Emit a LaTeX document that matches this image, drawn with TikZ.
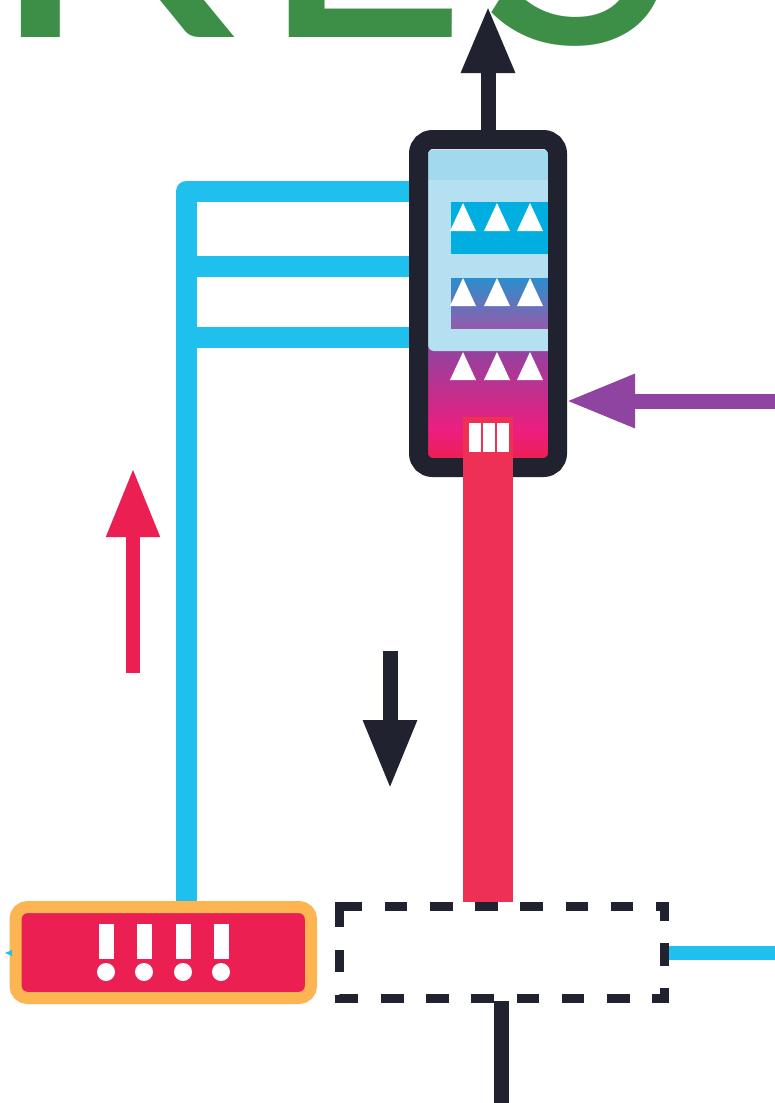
\documentclass[tikz,border=0pt]{standalone}
\usepackage{fontspec}
\newfontfamily\titlefont[FakeStretch=1.12]{Lato}
\usetikzlibrary{arrows.meta}
\definecolor{leaf}{HTML}{3D8F47}
\definecolor{ink}{HTML}{20232F}
\definecolor{sky}{HTML}{1FBFEE}
\definecolor{berry}{HTML}{EC1F52}
\definecolor{riser}{HTML}{EF3055}
\definecolor{plum}{HTML}{8E44A0}
\definecolor{amber}{HTML}{FDB552}
\definecolor{mist}{HTML}{B5E0F2}
\definecolor{mistdark}{HTML}{A2D9EE}
\definecolor{tray}{HTML}{00AEE0}
\definecolor{pink}{HTML}{EC1E80}
\tikzset{
  title/.style={font=\titlefont\fontsize{360}{360}\selectfont,text=leaf,inner sep=0pt,anchor=base},
  feed/.style={line width=21pt,draw=sky},
  bigarrow/.style={line width=15pt,-{Triangle[length=69pt,width=50pt]}},
  whitemark/.style={fill=white,draw=none},
}
\begin{document}
\begin{tikzpicture}[x=1pt,y=-1pt]
  \useasboundingbox (0,0) rectangle (775,1103);

  % Title, cut by the page
  \begin{scope}
    \clip (0,0) rectangle (775,1103);
    \node[title] (titleR) at (111,37) {R};
    \node[title,xscale=.915] (titleE) at (362,37) {E};
    \node[title,xscale=.92] (titleS) at (580,43) {S};
  \end{scope}

  % Column interior
  \shade[top color=plum,bottom color=pink] (428,345) rectangle (548,430);
  \shade[top color=pink,bottom color=berry] (428,430) rectangle (548,460);
  \fill[mist,rounded corners=6pt] (428,150) -- (428,351) -- (556,351) -- (556,150) -- cycle;
  \fill[mistdark] (428,150) rectangle (549,180);
  \fill[tray] (451,202) rectangle (549,254);
  \shade[top color=tray!70!plum,bottom color=plum!85!mist] (451,278) rectangle (549,328);
  \foreach \row in {231,306,380}
    \foreach \cx in {463,497,530}
      \fill[whitemark] (\cx-13,\row) -- (\cx,\row-28) -- (\cx+13,\row) -- cycle;

  % Column
  \node[draw=ink,line width=19pt,rounded corners=14pt,inner sep=0pt,outer sep=9.5pt,
        minimum width=139pt,minimum height=328pt] (column) at (488,303.5) {};

  % Boxes
  \node[draw=amber,fill=berry,line width=12pt,rounded corners=12pt,inner sep=0pt,outer sep=6pt,
        minimum width=295.5pt,minimum height=91pt] (alarm) at (163.25,952.5) {};
  \node[inner sep=0pt,outer sep=0pt,minimum width=325pt,minimum height=92pt] (tank) at (502,952.5) {};

  % Exclamation marks
  \foreach \cx in {106,144,183,221} {
    \fill[whitemark] (\cx-7.5,924) rectangle (\cx+7.5,959);
    \fill[whitemark] (\cx,972) circle (9);
  }

  % Blue lines
  \coordinate (busTop) at (186.5,191);
  \coordinate (busMid) at (186.5,266);
  \coordinate (busLow) at (186.5,337);
  \draw[feed,line join=round] (column.west |- busTop) -- (busTop) -- (busTop |- alarm.north);
  \draw[feed] (busMid) -- (column.west |- busMid);
  \draw[feed] (busLow) -- (column.west |- busLow);
  \coordinate (outRight) at (775,953);
  \draw[draw=sky,line width=14pt] (tank.east |- outRight) -- (outRight);
  \fill[sky] (5,953) -- (12,950) -- (12,956) -- cycle;

  % Thick riser
  \coordinate (riserTop) at (488,417);
  \draw[draw=riser,line width=50pt] (riserTop) -- (riserTop |- 0,902);
  \foreach \cx in {475,489,502.5}
    \fill[whitemark] (\cx-6,423) rectangle (\cx+6,452);

  % Dashed box
  \draw[draw=ink,line width=9pt,dash pattern=on 22.6pt off 22.6pt]
    (tank.north west) -- (tank.north east) -- (tank.south east) -- (tank.south west) -- cycle;
  \fill[ink] (335,902) rectangle (344,911);

  % Bottom line
  \coordinate (outBottom) at (501.5,1103);
  \draw[draw=ink,line width=15pt] (501.5,1001) -- (outBottom);

  % Arrows
  \coordinate (topTip) at (488,6);
  \draw[bigarrow,-{Triangle[length=67pt,width=50pt]},draw=ink,fill=ink] (column.north -| topTip) -- (topTip);
  \coordinate (purpleEnd) at (775,401);
  \coordinate (purpleTip) at (566,401);
  \draw[bigarrow,draw=plum,fill=plum] (purpleEnd) -- (purpleTip);
  \coordinate (redStart) at (133,673);
  \coordinate (redTip) at (133,468);
  \draw[bigarrow,draw=berry,fill=berry,line width=14pt] (redStart) -- (redTip);
  \coordinate (downStart) at (390,651);
  \coordinate (downTip) at (390,789);
  \draw[bigarrow,draw=ink,fill=ink] (downStart) -- (downTip);
\end{tikzpicture}
\end{document}
